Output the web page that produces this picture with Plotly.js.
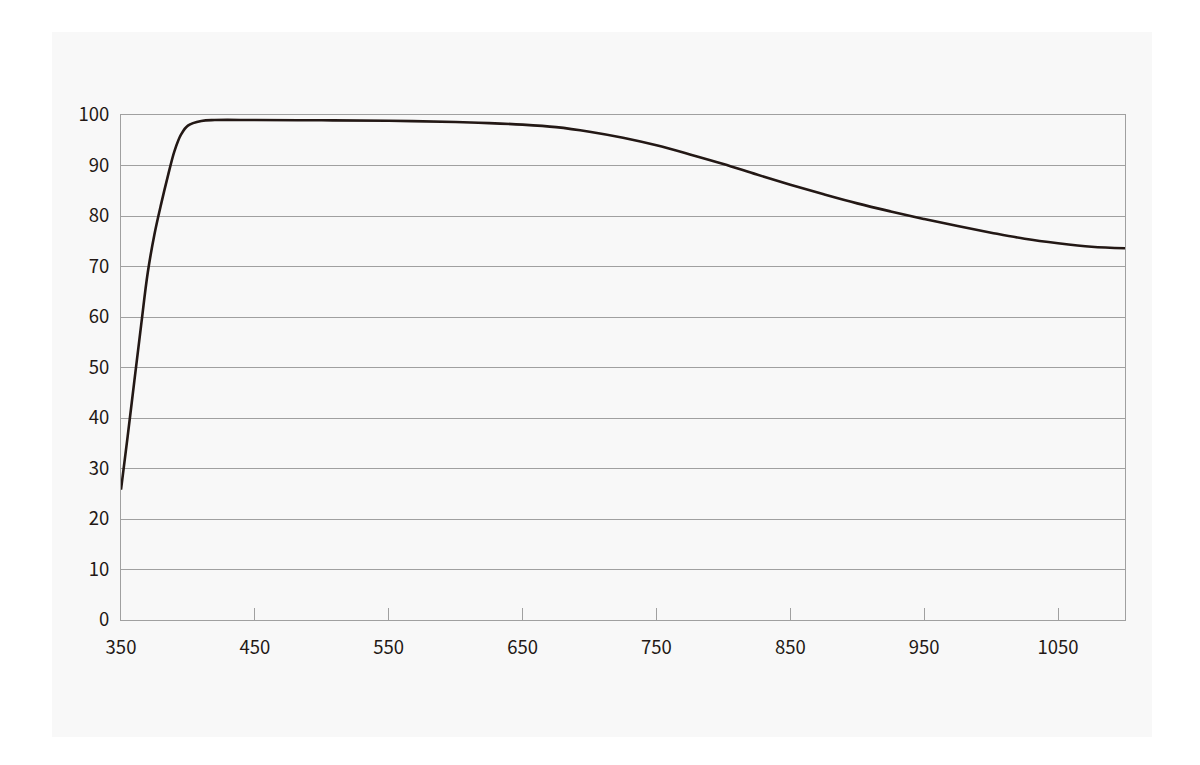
<!DOCTYPE html>
<html>
<head>
<meta charset="utf-8">
<script src="https://cdn.plot.ly/plotly-3.0.1.min.js"></script>
<style>
html,body{margin:0;padding:0;background:#ffffff;}
#chart{position:absolute;left:52px;top:32px;width:1100px;height:705px;}
</style>
</head>
<body>
<div id="chart"></div>
<script>
const wavelength = [350, 355, 360, 365, 370, 375, 380, 385, 390, 395, 400, 410, 420, 450, 500, 550, 600, 625, 650, 675, 700, 725, 750, 775, 800, 825, 850, 875, 900, 925, 950, 975, 1000, 1025, 1050, 1075, 1100];
const transmittance = [25.8, 36.4, 47.4, 58.3, 68.8, 76.4, 82.4, 87.9, 92.9, 96.2, 97.9, 98.8, 99.0, 99.0, 98.95, 98.85, 98.6, 98.4, 98.1, 97.6, 96.7, 95.5, 94.0, 92.2, 90.3, 88.2, 86.2, 84.3, 82.5, 80.9, 79.4, 78.0, 76.7, 75.5, 74.6, 73.9, 73.6];
const xTicks = [350, 450, 550, 650, 750, 850, 950, 1050];
const yTicks = [0, 10, 20, 30, 40, 50, 60, 70, 80, 90, 100];

const fontFam = '"Noto Sans CJK SC", "Noto Sans", sans-serif';
const ink = '#231815';
const grid = '#a0a0a0';

Plotly.newPlot('chart', [{
  x: wavelength,
  y: transmittance,
  type: 'scatter',
  mode: 'lines',
  line: {color: ink, width: 2.6, shape: 'spline', smoothing: 1},
  hoverinfo: 'skip'
}], {
  width: 1100,
  height: 705,
  paper_bgcolor: '#f8f8f8',
  plot_bgcolor: '#f8f8f8',
  margin: {l: 69, r: 27, t: 83, b: 117},
  showlegend: false,
  font: {family: fontFam, size: 18.5, color: ink},
  xaxis: {
    range: [350, 1100],
    tickvals: xTicks,
    ticktext: xTicks.map(String),
    ticks: 'inside',
    ticklen: 12,
    tickcolor: grid,
    tickwidth: 1,
    showgrid: false,
    zeroline: false,
    showline: true,
    linecolor: grid,
    linewidth: 1,
    mirror: true,
    ticklabelstandoff: 11,
    tickfont: {family: fontFam, size: 18.5, color: ink}
  },
  yaxis: {
    range: [0, 100],
    tickvals: yTicks,
    ticktext: yTicks.map(String),
    ticks: '',
    showgrid: true,
    gridcolor: grid,
    gridwidth: 1,
    zeroline: false,
    showline: true,
    linecolor: grid,
    linewidth: 1,
    mirror: true,
    ticklabelstandoff: 7,
    tickfont: {family: fontFam, size: 18.5, color: ink}
  }
}, {staticPlot: true, displayModeBar: false});
</script>
</body>
</html>
